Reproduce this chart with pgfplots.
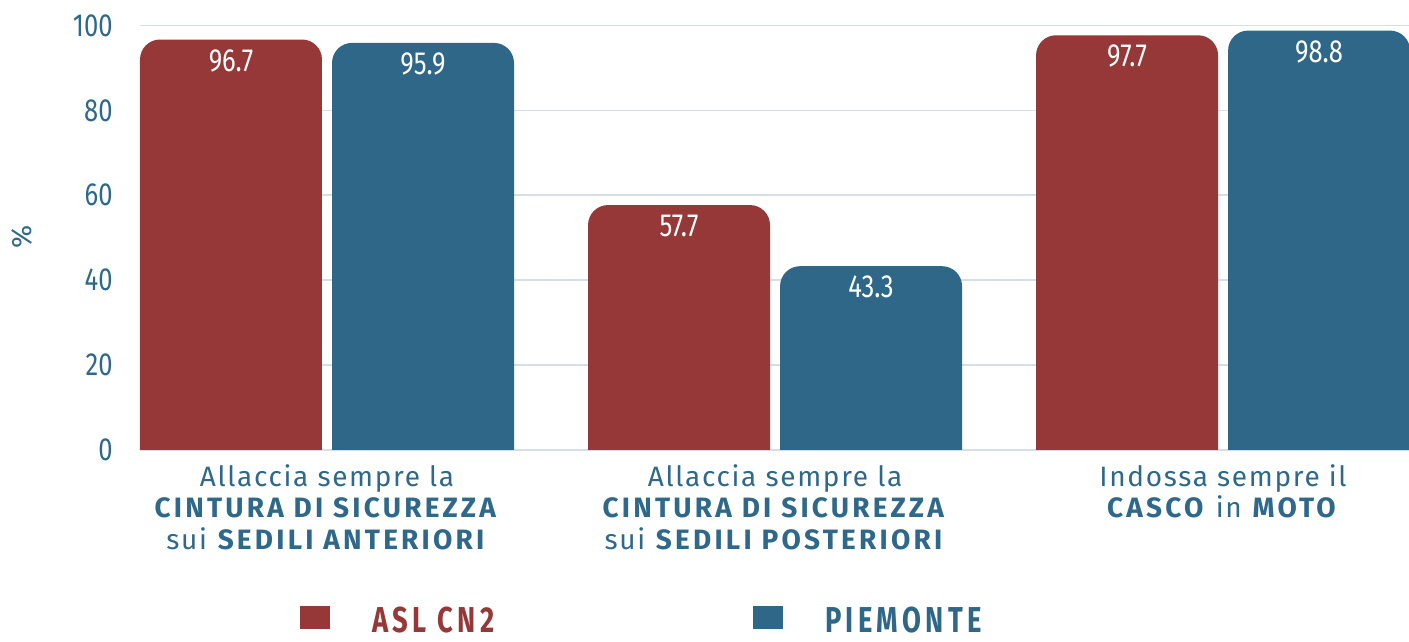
\documentclass[border=0pt]{standalone}
\usepackage{pgfplots}
\pgfplotsset{compat=1.18}
\usepackage{fontspec}
\setmainfont{Fira Sans}
\newfontfamily\numfont{Fira Sans}[FakeStretch=0.8]
\newfontfamily\catfont{Fira Sans}[LetterSpace=6,BoldFeatures={LetterSpace=11.5}]
\newfontfamily\legfont{Fira Sans}[FakeStretch=0.76,LetterSpace=12]
\definecolor{cred}{RGB}{149,56,55}
\definecolor{cblue}{RGB}{47,103,136}
\definecolor{tcol}{RGB}{46,104,138}
\definecolor{gridc}{RGB}{213,223,234}
\begin{document}
\begin{tikzpicture}
\path[use as bounding box] (-70pt,-96pt) rectangle (634.5pt,225pt);
\begin{axis}[
  at={(0pt,0pt)}, anchor=south west,
  scale only axis, width=634.5pt, height=212.25pt,
  xmin=-0.4174, xmax=2.415, ymin=0, ymax=100,
  xtick={0,1,2},
  xticklabels={{Allaccia sempre la\\\textbf{CINTURA DI SICUREZZA}\\sui \textbf{SEDILI ANTERIORI}},{Allaccia sempre la\\\textbf{CINTURA DI SICUREZZA}\\sui \textbf{SEDILI POSTERIORI}},{Indossa sempre il\\\textbf{CASCO} in \textbf{MOTO}}},
  ytick={0,20,...,100},
  ymajorgrids, grid style={draw=gridc, line width=0.8pt},
  axis line style={draw=none},
  major tick length=0pt,
  /pgf/number format/assume math mode=true,
  yticklabel style={font=\numfont\fontsize{16}{16}\selectfont, text=tcol, anchor=east, inner sep=0pt, xshift=-13.5pt},
  xticklabel style={font=\catfont\fontsize{14}{15.75}\selectfont, text=tcol, anchor=north, align=center, inner sep=0pt, yshift=-7pt},
  ylabel={\%},
  every axis y label/.style={at={(axis description cs:-0.093,0.502)}, rotate=90, anchor=center, font=\fontsize{14}{14}\selectfont, text=tcol},
  legend columns=2,
  legend cell align=left,
  legend image code/.code={\fill[#1] (0pt,-3.5pt) rectangle (15pt,8pt);},
  legend style={draw=none, fill=none, inner sep=0pt, at={(axis description cs:0.126,-0.402)}, anchor=west,
    font=\legfont\bfseries\fontsize{18}{18}\selectfont, nodes={inner sep=0pt},
    /tikz/every odd column/.style={column sep=21pt}, /tikz/every even column/.style={column sep=129.5pt}},
  every node near coord/.append style={font=\numfont\fontsize{16}{16}\selectfont, text=white, anchor=center, yshift=-10.5pt},
]
% ASL CN2 bars
\addplot[forget plot, fill=cred, draw=none, rounded corners=10pt] coordinates {(-0.4174,0) (-0.4174,96.7) (-0.0112,96.7) (-0.0112,0)};
\addplot[forget plot, fill=cred, draw=none, rounded corners=10pt] coordinates {(0.5826,0) (0.5826,57.7) (0.9888,57.7) (0.9888,0)};
\addplot[forget plot, fill=cred, draw=none, rounded corners=10pt] coordinates {(1.5826,0) (1.5826,97.7) (1.9888,97.7) (1.9888,0)};
% PIEMONTE bars
\addplot[forget plot, fill=cblue, draw=none, rounded corners=10pt] coordinates {(0.0112,0) (0.0112,95.9) (0.4174,95.9) (0.4174,0)};
\addplot[forget plot, fill=cblue, draw=none, rounded corners=10pt] coordinates {(1.0112,0) (1.0112,43.3) (1.4174,43.3) (1.4174,0)};
\addplot[forget plot, fill=cblue, draw=none, rounded corners=10pt] coordinates {(2.0112,0) (2.0112,98.8) (2.4174,98.8) (2.4174,0)};
% value labels
\addplot[forget plot, draw=none, mark=none, nodes near coords] coordinates {(-0.2143,96.7) (0.7857,57.7) (1.7857,97.7) (0.2143,95.9) (1.2143,43.3) (2.2143,98.8)};
\addlegendimage{fill=cred, draw=none}
\addlegendentry{\textcolor{cred}{ASL CN2}}
\addlegendimage{fill=cblue, draw=none}
\addlegendentry{\textcolor{cblue}{PIEMONTE}}
\end{axis}
\end{tikzpicture}
\end{document}
